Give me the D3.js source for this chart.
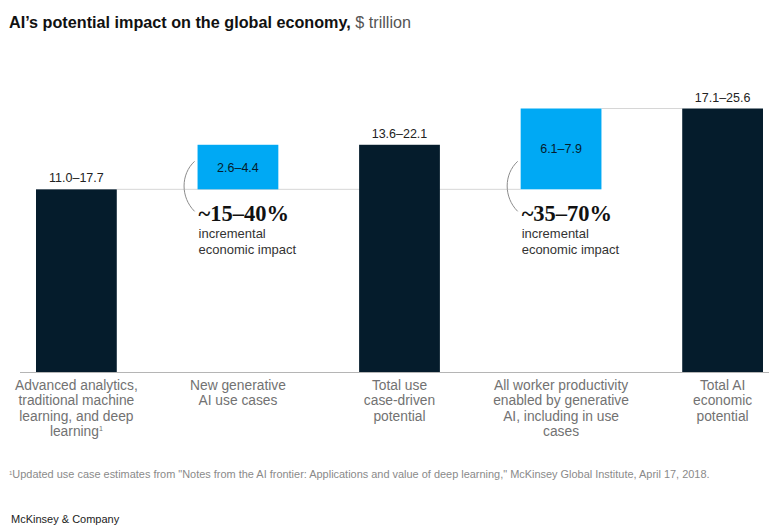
<!DOCTYPE html>
<html>
  <head>
    <title>AI economic impact</title>
    <script src="https://d3js.org/d3.v7.min.js"></script>
    <style>
      body {
        margin: 0;
        background: #fff;
      }
      text {
        font-family: "Liberation Sans", Arial, sans-serif;
      }
    </style>
  </head>
  <body>
    <script>
      // values, $ trillion (bar ends use range midpoints)
      const categories = ['adv', 'newgen', 'usecase', 'worker', 'total'];
      const categoryLines = [
        ['Advanced analytics,', 'traditional machine', 'learning, and deep', 'learning'],
        ['New generative', 'AI use cases'],
        ['Total use', 'case-driven', 'potential'],
        ['All worker productivity', 'enabled by generative', 'AI, including in use', 'cases'],
        ['Total AI', 'economic', 'potential']
      ];
      const barKind = ['total', 'step', 'total', 'step', 'total'];
      const barBase = [0, 14.35, 0, 14.35, 0];
      const barTop = [14.35, 17.85, 17.85, 20.7, 20.7];
      const rangeLabels = ['11.0–17.7', '2.6–4.4', '13.6–22.1', '6.1–7.9', '17.1–25.6'];
      const impactLabels = ['', '~15–40%', '', '~35–70%', ''];
      const impactNote = ['incremental', 'economic impact'];

      const w = 769;
      const h = 525;
      const baseY = 372;
      const dark = '#051c2c';
      const blue = '#00a9f4';

      const svg = d3.select('body')
                    .append('svg')
                    .attr('width', w)
                    .attr('height', h);

      const xScale = d3.scaleBand()
                       .domain(categories)
                       .range([36, 763])
                       .paddingInner(0.5)
                       .paddingOuter(0);

      const yScale = d3.scaleLinear()
                       .domain([0, 20.7])
                       .range([baseY, 108.5]);

      const bw = xScale.bandwidth();

      // title
      const title = svg.append('text')
                       .attr('x', 9)
                       .attr('y', 28)
                       .style('font-size', '16.2px')
                       .style('font-weight', 'bold')
                       .attr('fill', '#111')
                       .text('AI’s potential impact on the global economy,');
      title.append('tspan')
           .style('font-weight', 'normal')
           .attr('fill', '#555')
           .text(' $ trillion');

      // connector lines between bar levels
      svg.append('line')
         .attr('x1', xScale(categories[0]) + bw)
         .attr('x2', xScale(categories[3]))
         .attr('y1', yScale(barTop[0]))
         .attr('y2', yScale(barTop[0]))
         .attr('stroke', '#d6d6d6')
         .attr('stroke-width', 1);

      svg.append('line')
         .attr('x1', xScale(categories[3]) + bw)
         .attr('x2', xScale(categories[4]))
         .attr('y1', yScale(barTop[3]))
         .attr('y2', yScale(barTop[3]))
         .attr('stroke', '#d6d6d6')
         .attr('stroke-width', 1);

      // bars
      svg.selectAll('rect.bar')
         .data(categories)
         .enter()
         .append('rect')
         .attr('class', 'bar')
         .attr('x', d => xScale(d))
         .attr('y', (d, i) => yScale(barTop[i]))
         .attr('width', bw)
         .attr('height', (d, i) => yScale(barBase[i]) - yScale(barTop[i]))
         .attr('fill', (d, i) => barKind[i] === 'total' ? dark : blue);

      // baseline
      svg.append('line')
         .attr('x1', 20)
         .attr('x2', w)
         .attr('y1', baseY + 0.5)
         .attr('y2', baseY + 0.5)
         .attr('stroke', '#b5b5b5')
         .attr('stroke-width', 1);

      // range labels: above dark bars, inside blue ones
      svg.selectAll('text.range')
         .data(categories)
         .enter()
         .append('text')
         .attr('class', 'range')
         .attr('x', d => xScale(d) + bw / 2)
         .attr('y', (d, i) => barKind[i] === 'total'
           ? yScale(barTop[i]) - 7
           : (yScale(barTop[i]) + yScale(barBase[i])) / 2 + 4.5)
         .attr('text-anchor', 'middle')
         .style('font-size', '12.5px')
         .attr('fill', (d, i) => barKind[i] === 'total' ? '#222' : dark)
         .text((d, i) => rangeLabels[i]);

      // incremental impact annotations
      const steps = categories.filter((d, i) => barKind[i] === 'step');
      steps.forEach(d => {
        const i = categories.indexOf(d);
        const bx = xScale(d);
        const cy = yScale(barBase[i]);
        const g = svg.append('g');

        g.append('path')
         .attr('d', `M${bx - 3},${cy - 28} C${bx - 17},${cy - 15} ${bx - 17},${cy + 8} ${bx - 3},${cy + 22}`)
         .attr('fill', 'none')
         .attr('stroke', '#8c8c8c')
         .attr('stroke-width', 1);

        g.append('text')
         .attr('x', bx + 1)
         .attr('y', cy + 31.5)
         .style('font-family', '"Liberation Serif", "Times New Roman", serif')
         .style('font-weight', 'bold')
         .style('font-size', '22.5px')
         .attr('fill', '#111')
         .text(impactLabels[i]);

        g.selectAll('text.note')
         .data(impactNote)
         .enter()
         .append('text')
         .attr('class', 'note')
         .attr('x', bx + 1)
         .attr('y', (t, k) => cy + 48.5 + k * 16)
         .style('font-size', '13px')
         .attr('fill', '#333')
         .text(t => t);
      });

      // category labels under the baseline
      categories.forEach((d, i) => {
        const t = svg.append('text')
                     .attr('text-anchor', 'middle')
                     .style('font-size', '13.8px')
                     .attr('fill', '#727272');
        categoryLines[i].forEach((line, k) => {
          t.append('tspan')
           .attr('x', xScale(d) + bw / 2)
           .attr('y', 390 + k * 15.4)
           .text(line);
        });
        if (i === 0) {
          t.append('tspan')
           .attr('dy', -5)
           .style('font-size', '7px')
           .text('1');
        }
      });

      // footnote and source
      const foot = svg.append('text')
                      .attr('x', 9)
                      .attr('y', 478)
                      .style('font-size', '10.95px')
                      .attr('fill', '#8a8a8a');
      foot.append('tspan')
          .attr('dy', -3)
          .style('font-size', '6px')
          .text('1');
      foot.append('tspan')
          .attr('dy', 3)
          .text('Updated use case estimates from "Notes from the AI frontier: Applications and value of deep learning," McKinsey Global Institute, April 17, 2018.');

      svg.append('text')
         .attr('x', 11)
         .attr('y', 523)
         .style('font-size', '11px')
         .attr('fill', '#222')
         .text('McKinsey & Company');
    </script>
  </body>
</html>
